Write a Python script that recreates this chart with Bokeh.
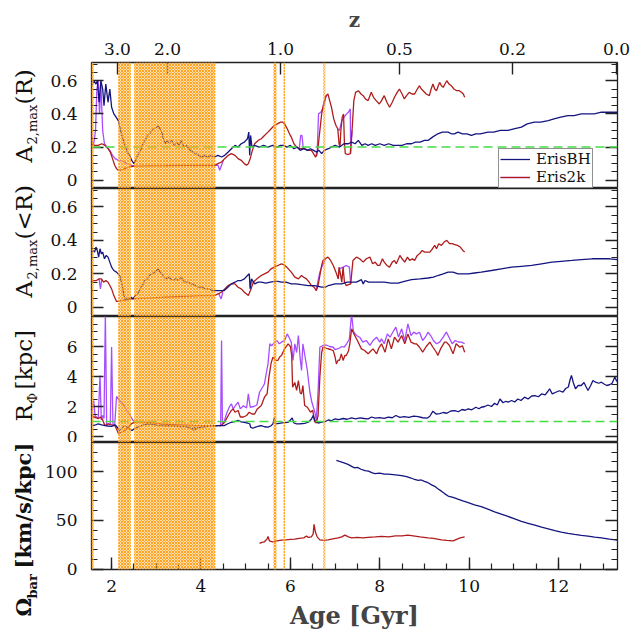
import math
import numpy as np
from bokeh.plotting import figure
from bokeh.models import (Range1d, LinearAxis, FixedTicker, BoxAnnotation, Span,
                          Legend, LegendItem)
from bokeh.layouts import column, row
from bokeh.core.properties import value
from bokeh.embed import file_html
from bokeh.resources import INLINE

NAN = float("nan")

# ---------------- data ----------------
# redshift ticks on the top axis (age in Gyr where each redshift label sits)
z_tick_age = [2.13, 3.25, 5.78, 8.44, 10.97, 13.3]
z_tick_label = ["3.0", "2.0", "1.0", "0.5", "0.2", "0.0"]

# shaded (orange) age intervals [start, end] in Gyr
shade_start = [1.55, 2.15, 2.505, 5.62, 5.85, 6.74]
shade_end = [1.60, 2.43, 4.32, 5.69, 5.88, 6.78]

# reference levels (green dashed)
a2_threshold = 0.2
rphi_threshold = 1.0

# ---- Panel 1: A2,max(R)
bh_a2_age = [1.55, 1.60, 1.65, 1.68, 1.72, 1.76, 1.80, 1.83, 1.87, 1.92, 1.96, 2.00, 2.05, 2.10,
             2.15, 2.20, 2.25, 2.30, 2.35, 2.40, 2.45, 2.50, 2.55, 2.60, 2.65, 2.70, 2.75, 2.80,
             2.85, 2.90, 2.95, 3.00, 3.04, 3.08, 3.12, 3.16, 3.20, 3.25, 3.30, 3.35, 3.40, 3.45,
             3.50, 3.56, 3.62, 3.68, 3.75, 3.82, 3.88, 3.95, 4.02, 4.08, 4.15, 4.22, 4.30, 4.38,
             4.46, 4.53, 4.61, 4.68, 4.76, 4.83, 4.90, 4.97, 5.04, 5.07, 5.09, 5.11, 5.14, 5.20,
             5.30, 5.40, 5.50, 5.60, 5.70, 5.78, 5.85, 5.92, 6.00, 6.08, 6.15, 6.22, 6.30, 6.38,
             6.45, 6.52, 6.58, 6.64, 6.70, 6.76, 6.85, 6.92, 7.00, 7.10, 7.20, 7.30, 7.37, 7.45,
             7.52, 7.60, 7.67, 7.74, 7.82, 7.90, 8.00, 8.10, 8.20, 8.30, 8.40, 8.50, 8.60, 8.71,
             8.80, 8.90, 9.00, 9.08, 9.18, 9.30, 9.40, 9.53, 9.60, 9.67, 9.75, 9.85, 9.95, 10.05,
             10.15, 10.25, 10.42, 10.55, 10.70, 10.87, 11.00, 11.17, 11.30, 11.46, 11.60, 11.77,
             11.90, 12.05, 12.21, 12.35, 12.51, 12.65, 12.80, 12.96, 13.10, 13.32]
bh_a2_val = [0.57, 0.60, 0.58, 0.60, 0.47, 0.60, 0.55, 0.45, 0.58, 0.47, 0.55, 0.44, 0.40, 0.38,
             0.36, 0.30, 0.25, 0.21, 0.17, 0.15, 0.12, 0.10, 0.13, 0.16, 0.18, 0.22, 0.24, 0.27,
             0.28, 0.30, 0.31, 0.32, 0.33, 0.31, 0.29, 0.25, 0.22, 0.24, 0.22, 0.24, 0.21, 0.23,
             0.21, 0.24, 0.20, 0.21, 0.18, 0.17, 0.16, 0.15, 0.14, 0.15, 0.14, 0.15, 0.14, 0.15,
             0.14, 0.15, 0.17, 0.19, 0.21, 0.20, 0.22, 0.23, 0.25, 0.29, 0.15, 0.27, 0.20, 0.21,
             0.20, 0.21, 0.20, 0.21, 0.20, 0.21, 0.21, 0.20, 0.21, 0.19, 0.20, 0.18, 0.19, 0.18,
             0.19, 0.18, 0.17, 0.18, 0.16, 0.18, 0.19, 0.20, 0.21, 0.20, 0.22, 0.22, 0.23, 0.22,
             0.24, 0.21, 0.22, 0.21, 0.22, 0.21, 0.22, 0.21, 0.22, 0.21, 0.21, 0.21, 0.22, 0.22,
             0.23, 0.23, 0.24, 0.24, 0.26, 0.28, 0.29, 0.29, 0.28, 0.28, 0.29, 0.28, 0.28, 0.27,
             0.28, 0.28, 0.29, 0.29, 0.30, 0.30, 0.31, 0.32, 0.34, 0.35, 0.35, 0.36,
             0.37, 0.38, 0.39, 0.39, 0.40, 0.40, 0.40, 0.41, 0.41, 0.41]

k2_a2_age = [1.55, 1.62, 1.70, 1.78, 1.85, 1.92, 1.97, 2.02, 2.07, 2.11, 2.15, 2.20, 2.30, 2.40,
             2.52, 2.80, 3.20, 3.60, 4.00, 4.30, 4.38, 4.46, 4.53, 4.61, 4.68, 4.76, 4.83, 4.90,
             4.97, 5.02, 5.06, 5.10, 5.15, 5.20, 5.28, 5.35, 5.42, 5.50, 5.57, 5.64, 5.71, 5.78,
             5.83, 5.87, 5.93, 5.98, 6.02, 6.08, 6.14, 6.20, 6.25, 6.32, 6.40, 6.47, 6.52, 6.56,
             6.59, 6.62, 6.66, 6.70, 6.75, 6.80, 6.84, 6.88, 6.92, 6.97, 7.02, 7.06, 7.09, 7.11,
             7.13, 7.16, 7.19, 7.21, 7.23, 7.28, 7.34, 7.38, 7.42, 7.46, 7.52, 7.58, 7.63, 7.68,
             7.74, 7.78, 7.81, 7.86, 7.92, 7.99, 8.04, 8.10, 8.16, 8.22, 8.28, 8.33, 8.39, 8.44,
             8.50, 8.55, 8.60, 8.66, 8.72, 8.78, 8.84, 8.89, 8.93, 8.97, 9.04, 9.11, 9.15, 9.19,
             9.23, 9.27, 9.31, 9.34, 9.38, 9.42, 9.46, 9.50, 9.55, 9.60, 9.66, 9.72, 9.78, 9.83,
             9.87, 9.90]
k2_a2_val = [0.22, 0.21, 0.21, 0.22, 0.21, 0.19, 0.17, 0.13, 0.09, 0.07, 0.06, 0.06, 0.07, 0.08,
             0.085, 0.087, 0.088, 0.09, 0.09, 0.09, 0.10, 0.11, 0.13, 0.15, 0.16, 0.15, 0.13, 0.12,
             0.10, 0.09, 0.10, 0.13, 0.18, 0.22, 0.24, 0.25, 0.27, 0.29, 0.31, 0.33, 0.34, 0.35,
             0.35, 0.34, 0.31, 0.28, 0.26, 0.22, 0.20, 0.19, 0.19, 0.19, 0.18, 0.18, 0.16, 0.14,
             0.15, 0.20, 0.30, 0.40, 0.47, 0.51, 0.52, 0.48, 0.44, 0.37, 0.33, 0.31, 0.22, 0.20,
             0.30, 0.38, 0.40, 0.22, 0.16, 0.155, 0.16, 0.30, 0.48, 0.53, 0.54, 0.52, 0.51, 0.49,
             0.48, 0.51, 0.53, 0.50, 0.48, 0.46, 0.48, 0.51, 0.47, 0.44, 0.47, 0.50, 0.53, 0.55,
             0.52, 0.49, 0.51, 0.53, 0.52, 0.52, 0.55, 0.57, 0.55, 0.54, 0.52, 0.51, 0.55, 0.58,
             0.55, 0.54, 0.57, 0.59, 0.57, 0.56, 0.58, 0.60, 0.58, 0.57, 0.55, 0.54, 0.54, 0.53,
             0.52, 0.50]

# second Eris2k estimate (purple) -- only where it departs from the red curve
pu_a2_age = [1.55, 1.60, 1.64, 1.67, 1.70, 1.73, 1.76, 1.80, 1.84, 1.90, 1.96, 2.02, 2.08, 2.15,
             2.25, 2.35, 2.45, 2.52, NAN,
             4.30, 4.38, 4.42, 4.46, 4.50, NAN,
             6.20, 6.23, 6.26, 6.29, NAN,
             6.56, 6.60, 6.63, 6.68, 6.72, 6.76, 6.80, NAN,
             7.05, 7.10, 7.15, 7.20, 7.26, 7.30, 7.34, 7.35, 7.38]
pu_a2_val = [0.24, 0.22, 0.30, 0.55, 0.60, 0.40, 0.58, 0.30, 0.22, 0.20, 0.18, 0.15, 0.13, 0.12,
             0.115, 0.10, 0.09, 0.085, NAN,
             0.09, 0.09, 0.06, 0.09, 0.12, NAN,
             0.19, 0.27, 0.27, 0.19, NAN,
             0.14, 0.17, 0.40, 0.41, 0.43, 0.46, 0.51, NAN,
             0.31, 0.30, 0.36, 0.38, 0.40, 0.41, 0.43, 0.16, 0.30]

# ---- Panel 2: A2,max(<R)
bh_a2c_age = [1.55, 1.58, 1.62, 1.65, 1.68, 1.71, 1.74, 1.77, 1.80, 1.84, 1.88, 1.92, 1.96, 2.00,
              2.05, 2.11, 2.18, 2.23, 2.27, 2.31, 2.36, 2.40, 2.44, 2.48, 2.53, 2.59, 2.64, 2.69,
              2.74, 2.80, 2.85, 2.90, 2.96, 3.00, 3.04, 3.08, 3.12, 3.17, 3.22, 3.27, 3.33, 3.38,
              3.43, 3.50, 3.56, 3.62, 3.70, 3.79, 3.87, 3.94, 4.02, 4.10, 4.18, 4.26, 4.38, 4.45,
              4.52, 4.60, 4.68, 4.76, 4.83, 4.90, 4.97, 5.04, 5.08, 5.10, 5.13, 5.20, 5.28, 5.35,
              5.45, 5.55, 5.65, 5.72, 5.80, 5.90, 6.02, 6.12, 6.25, 6.40, 6.54, 6.62, 6.70, 6.78,
              6.85, 7.00, 7.15, 7.27, 7.37, 7.48, 7.59, 7.63, 7.67, 7.75, 7.85, 7.96, 8.10, 8.25,
              8.41, 8.55, 8.71, 8.90, 9.08, 9.20, 9.30, 9.42, 9.53, 9.64, 9.75, 9.88, 9.98, 10.12,
              10.27, 10.50, 10.72, 10.95, 11.17, 11.40, 11.62, 11.85, 12.06, 12.30, 12.51, 12.75,
              12.96, 13.15, 13.32]
bh_a2c_val = [0.31, 0.34, 0.33, 0.36, 0.34, 0.30, 0.35, 0.32, 0.33, 0.29, 0.31, 0.30, 0.27, 0.24,
              0.22, 0.21, 0.19, 0.14, 0.08, 0.04, 0.06, 0.05, 0.06, 0.05, 0.07, 0.08, 0.11, 0.13,
              0.16, 0.17, 0.19, 0.20, 0.21, 0.22, 0.23, 0.21, 0.20, 0.18, 0.17, 0.18, 0.17, 0.16,
              0.17, 0.16, 0.18, 0.15, 0.15, 0.14, 0.13, 0.12, 0.12, 0.11, 0.11, 0.10, 0.10, 0.10,
              0.10, 0.12, 0.14, 0.15, 0.16, 0.16, 0.17, 0.19, 0.20, 0.11, 0.17, 0.14, 0.15, 0.15,
              0.145, 0.15, 0.155, 0.155, 0.15, 0.15, 0.14, 0.14, 0.135, 0.13, 0.13, 0.125, 0.12, 0.12,
              0.13, 0.14, 0.14, 0.15, 0.15, 0.15, 0.165, 0.14, 0.16, 0.15, 0.15, 0.15, 0.15, 0.145,
              0.145, 0.155, 0.165, 0.17, 0.175, 0.18, 0.19, 0.20, 0.21, 0.21, 0.20, 0.20, 0.20, 0.205,
              0.21, 0.22, 0.23, 0.24, 0.245, 0.25, 0.26, 0.27, 0.275, 0.28, 0.285, 0.29,
              0.29, 0.29, 0.285]

k2_a2c_age = [1.55, 1.60, 1.66, 1.72, 1.77, 1.82, 1.87, 1.92, 1.96, 2.00, 2.05, 2.11, 2.16, 2.22,
              2.30, 2.44, 2.80, 3.20, 3.60, 4.00, 4.30, 4.38, 4.46, 4.53, 4.61, 4.68, 4.76, 4.83,
              4.90, 4.97, 5.06, 5.12, 5.17, 5.25, 5.35, 5.42, 5.50, 5.57, 5.64, 5.72, 5.80, 5.85,
              5.92, 6.02, 6.10, 6.18, 6.25, 6.30, 6.36, 6.42, 6.47, 6.53, 6.58, 6.62, 6.66, 6.70,
              6.73, 6.78, 6.84, 6.90, 6.96, 7.02, 7.07, 7.09, 7.12, 7.15, 7.18, 7.21, 7.25, 7.30,
              7.35, 7.40, 7.44, 7.48, 7.55, 7.63, 7.70, 7.78, 7.84, 7.90, 7.95, 8.00, 8.06, 8.10,
              8.16, 8.22, 8.28, 8.33, 8.37, 8.42, 8.45, 8.50, 8.56, 8.62, 8.67, 8.73, 8.78, 8.84,
              8.89, 8.95, 9.00, 9.06, 9.12, 9.18, 9.23, 9.27, 9.32, 9.38, 9.44, 9.50, 9.56, 9.62,
              9.68, 9.74, 9.80, 9.86, 9.90]
k2_a2c_val = [0.15, 0.16, 0.16, 0.17, 0.17, 0.15, 0.16, 0.15, 0.13, 0.11, 0.07, 0.035, 0.035, 0.04,
              0.045, 0.05, 0.055, 0.06, 0.065, 0.07, 0.07, 0.08, 0.09, 0.11, 0.13, 0.14, 0.14, 0.12,
              0.11, 0.09, 0.07, 0.11, 0.15, 0.17, 0.19, 0.20, 0.21, 0.23, 0.24, 0.25, 0.26, 0.255,
              0.24, 0.21, 0.18, 0.17, 0.19, 0.18, 0.17, 0.15, 0.13, 0.12, 0.10, 0.13, 0.19, 0.25,
              0.28, 0.29, 0.30, 0.28, 0.25, 0.21, 0.17, 0.24, 0.20, 0.15, 0.24, 0.15, 0.13, 0.135,
              0.14, 0.28, 0.29, 0.30, 0.29, 0.27, 0.29, 0.30, 0.26, 0.27, 0.25, 0.25, 0.29, 0.27,
              0.25, 0.24, 0.27, 0.28, 0.26, 0.29, 0.31, 0.29, 0.27, 0.30, 0.28, 0.29, 0.28, 0.31,
              0.32, 0.34, 0.33, 0.33, 0.33, 0.35, 0.37, 0.35, 0.38, 0.37, 0.39, 0.40, 0.38, 0.38,
              0.375, 0.37, 0.36, 0.34, 0.33]

pu_a2c_age = [1.72, 1.75, 1.78, NAN,
              4.40, 4.45, 4.49, NAN,
              6.58, 6.62, 6.66, 6.70, 6.74, 6.78, NAN,
              7.07, 7.10, 7.18, 7.25, 7.32, 7.35]
pu_a2c_val = [0.17, 0.11, 0.17, NAN,
              0.08, 0.05, 0.09, NAN,
              0.10, 0.16, 0.21, 0.24, 0.26, 0.29, NAN,
              0.17, 0.23, 0.24, 0.25, 0.24, 0.14]

# ---- Panel 3: R_phi [kpc]
bh_r_age = [1.55, 1.62, 1.70, 1.78, 1.85, 1.92, 2.00, 2.08, 2.13, 2.18, 2.24, 2.29, 2.35, 2.40,
            2.46, 2.52, 2.59, 2.67, 2.74, 2.82, 2.90, 2.98, 3.05, 3.12, 3.20, 3.28, 3.36, 3.44,
            3.52, 3.60, 3.68, 3.75, 3.79, 3.81, 3.84, 3.86, 3.88, 3.92, 4.00, 4.08, 4.16, 4.23,
            4.30, 4.38, 4.45, 4.52, 4.60, 4.68, 4.76, 4.83, 4.90, 4.97, 5.04, 5.09, 5.11, 5.16,
            5.22, 5.30, 5.35, 5.42, 5.50, 5.56, 5.61, 5.64, 5.67, 5.75, 5.85, 5.95, 6.00, 6.04,
            6.08, 6.14, 6.22, 6.32, 6.40, 6.47, 6.51, 6.55, 6.62, 6.70, 6.78, 6.85, 6.92, 7.00,
            7.08, 7.18, 7.27, 7.37, 7.46, 7.56, 7.65, 7.74, 7.82, 7.90, 8.00, 8.10, 8.19, 8.28,
            8.36, 8.45, 8.55, 8.65, 8.76, 8.86, 8.96, 9.06, 9.12, 9.19, 9.26, 9.34, 9.42, 9.50,
            9.59, 9.68, 9.76, 9.84, 9.91, 9.98, 10.06, 10.15, 10.22, 10.27, 10.35, 10.42, 10.50,
            10.57, 10.63, 10.69, 10.76, 10.82, 10.87, 10.95, 11.02, 11.09, 11.16, 11.24, 11.32,
            11.40, 11.47, 11.55, 11.62, 11.70, 11.76, 11.80, 11.86, 11.94, 12.02, 12.10, 12.16,
            12.22, 12.26, 12.29, 12.33, 12.38, 12.44, 12.51, 12.57, 12.62, 12.66, 12.72, 12.77,
            12.83, 12.90, 12.96, 13.02, 13.08, 13.14, 13.20, 13.26, 13.30, 13.32]
bh_r_val = [0.73, 0.75, 0.84, 0.78, 0.73, 0.70, 0.67, 0.78, 0.60, 0.40, 0.55, 0.73, 0.60, 0.50,
            0.40, 0.55, 0.62, 0.73, 0.80, 0.84, 0.82, 0.78, 0.72, 0.75, 0.70, 0.72, 0.69, 0.70,
            0.66, 0.68, 0.65, 0.60, 0.45, 0.60, 0.42, 0.62, 0.45, 0.58, 0.62, 0.65, 0.68, 0.73,
            0.70, 0.73, 0.73, 0.73, 0.85, 0.95, 1.00, 1.07, 0.98, 0.95, 0.90, 0.85, 0.62, 0.55,
            0.62, 0.70, 0.73, 0.65, 0.62, 0.70, 0.84, 1.24, 0.84, 0.88, 0.93, 0.95, 1.10, 1.24,
            0.90, 0.84, 0.85, 0.88, 0.95, 1.15, 1.40, 1.05, 0.90, 0.96, 1.00, 1.10, 1.05, 1.18,
            1.12, 1.20, 1.15, 1.24, 1.18, 1.24, 1.20, 1.18, 1.30, 1.22, 1.26, 1.21, 1.29, 1.25,
            1.40, 1.28, 1.33, 1.28, 1.36, 1.33, 1.25, 1.22, 1.35, 1.69, 1.50, 1.52, 1.60, 1.55,
            1.70, 1.73, 1.65, 1.80, 1.75, 1.84, 1.78, 1.95, 1.85, 1.95, 2.00, 2.10, 2.00,
            2.22, 2.10, 2.50, 2.25, 2.35, 2.29, 2.40, 2.30, 2.50, 2.40, 2.62, 2.50,
            2.70, 2.73, 2.65, 2.84, 2.78, 3.00, 3.18, 2.84, 2.95, 3.05, 2.96, 3.20,
            3.30, 3.80, 4.07, 3.60, 3.18, 3.40, 3.40, 3.60, 3.30, 3.07, 3.40, 3.73,
            3.62, 3.55, 3.62, 3.50, 3.40, 3.45, 3.55, 3.96, 3.70, 3.69]

k2_r_age = [1.55, 1.60, 1.66, 1.70, 1.75, 1.80, 1.85, 1.92, 2.00, 2.07, 2.11, 2.15, 2.20, 2.29,
            2.37, 2.44, 2.52, 2.70, 2.90, 3.10, 3.30, 3.50, 3.70, 3.90, 4.10, 4.30, 4.45, 4.53,
            4.61, 4.67, 4.72, 4.76, 4.83, 4.88, 4.95, 5.02, 5.08, 5.14, 5.20, 5.26, 5.35, 5.42,
            5.48, 5.52, 5.57, 5.61, 5.67, 5.72, 5.76, 5.80, 5.87, 5.95, 6.00, 6.03, 6.05, 6.10,
            6.14, 6.18, 6.22, 6.25, 6.28, 6.32, 6.38, 6.45, 6.50, 6.54, 6.58, 6.62, 6.66, 6.70,
            6.73, 6.79, 6.84, 6.90, 6.96, 7.00, 7.03, 7.07, 7.10, 7.14, 7.18, 7.22, 7.25, 7.30,
            7.33, 7.37, 7.44, 7.50, 7.59, 7.66, 7.74, 7.80, 7.85, 7.93, 7.98, 8.04, 8.12, 8.19,
            8.26, 8.33, 8.41, 8.49, 8.56, 8.63, 8.70, 8.78, 8.82, 8.89, 8.96, 9.04, 9.12, 9.19,
            9.27, 9.30, 9.36, 9.45, 9.49, 9.56, 9.64, 9.71, 9.79, 9.85, 9.90]
k2_r_val = [1.40, 1.30, 1.25, 1.18, 1.30, 1.10, 0.73, 0.85, 0.78, 0.73, 0.50, 0.22, 0.25, 0.40,
            0.60, 0.84, 0.96, 0.96, 0.93, 0.84, 0.80, 0.78, 0.76, 0.73, 0.73, 0.73, 0.73, 0.95,
            1.40, 1.70, 1.84, 1.62, 1.73, 1.30, 1.30, 1.40, 1.62, 1.50, 1.50, 1.84, 2.07, 2.62,
            2.85, 3.96, 4.90, 5.29, 5.07, 5.07, 5.30, 5.40, 5.84, 6.18, 6.00, 5.40, 3.29, 3.60,
            3.07, 3.73, 2.90, 2.84, 3.40, 2.07, 1.95, 1.62, 1.75, 1.00, 0.90, 1.40, 4.00, 5.60,
            5.96, 5.90, 5.85, 5.80, 5.73, 5.30, 4.84, 5.10, 5.07, 5.51, 5.07, 5.40, 5.40, 5.70,
            6.18, 7.18, 6.73, 6.40, 5.84, 5.73, 5.51, 5.70, 5.84, 5.51, 5.90, 6.18, 5.62, 6.51,
            5.84, 6.62, 6.29, 6.73, 6.18, 6.84, 6.29, 6.18, 6.18, 5.95, 5.62, 6.00, 6.29, 5.95,
            5.60, 5.40, 5.84, 6.29, 6.29, 6.07, 5.51, 6.18, 5.95, 6.05, 5.62]

pu_r_age = [1.55, 1.60, 1.63, 1.66, 1.70, 1.74, 1.77, 1.80, 1.83, 1.86, 1.89, 1.93, 1.97, 2.00,
            2.03, 2.07, 2.11, 2.18, 2.27, 2.37, 2.48, 2.55, NAN,
            4.40, 4.44, 4.46, 4.48, 4.52, 4.58, 4.64, 4.68, 4.72, 4.78, 4.83, 4.88, 4.95, 5.02,
            5.06, 5.10, 5.18, 5.25, 5.31, 5.38, 5.42, 5.46, 5.50, 5.54, 5.58, 5.65, 5.70, 5.75,
            5.80, 5.87, 5.93, 5.97, 6.02, 6.06, 6.10, 6.14, 6.18, 6.22, 6.25, 6.28, 6.33, 6.38,
            6.41, 6.44, 6.48, 6.51, 6.55, 6.58, 6.62, 6.66, 6.73, 6.80, 6.88, 6.96, 7.00, 7.05,
            7.10, 7.15, 7.20, 7.26, 7.32, 7.37, 7.41, 7.48, 7.55, 7.62, 7.70, 7.78, 7.85, 7.93,
            8.00, 8.04, 8.10, 8.17, 8.23, 8.30, 8.36, 8.42, 8.49, 8.56, 8.63, 8.70, 8.76, 8.82,
            8.89, 8.96, 9.02, 9.08, 9.14, 9.20, 9.27, 9.34, 9.42, 9.49, 9.55, 9.62, 9.69, 9.76,
            9.83, 9.90]
pu_r_val = [1.50, 2.40, 1.40, 1.30, 1.20, 4.07, 1.10, 1.40, 1.20, 8.20, 0.73, 0.84, 0.80, 5.96,
            0.73, 0.80, 2.67, 2.40, 2.10, 1.60, 1.07, 0.96, NAN,
            0.73, 0.73, 6.40, 0.80, 1.00, 1.60, 2.00, 2.18, 1.84, 2.10, 2.29, 1.84, 2.05, 1.90,
            2.84, 1.95, 2.00, 2.10, 2.95, 3.30, 3.51, 4.20, 4.84, 6.18, 6.05, 6.29, 6.40, 6.18,
            6.29, 6.40, 6.84, 6.62, 6.29, 5.07, 6.18, 5.60, 6.73, 5.20, 4.40, 6.18, 5.30, 4.40,
            3.60, 2.90, 2.30, 2.00, 1.60, 1.07, 3.00, 5.95, 6.07, 6.10, 6.00, 5.95, 5.80, 5.84,
            5.90, 6.00, 5.95, 6.18, 6.50, 8.20, 7.00, 6.73, 6.62, 6.29, 6.40, 6.07, 6.40, 6.62,
            6.29, 6.51, 6.18, 6.84, 6.62, 7.00, 7.29, 6.62, 7.18, 6.40, 7.51, 6.73, 6.96, 6.84,
            6.95, 6.40, 6.62, 6.95, 6.73, 6.40, 6.18, 6.29, 6.62, 6.96, 6.62, 6.18, 6.40, 6.30,
            6.29, 6.18]

# ---- Panel 4: Omega_bar [km/s/kpc]
k2_om_age = [5.31, 5.36, 5.42, 5.48, 5.50, 5.53, 5.60, 5.70, 5.80, 5.90, 6.00, 6.10, 6.20, 6.30,
             6.36, 6.40, 6.47, 6.51, 6.53, 6.56, 6.60, 6.66, 6.75, 6.84, 6.95, 7.07, 7.15, 7.22,
             7.30, 7.37, 7.50, 7.62, 7.74, 7.90, 8.04, 8.20, 8.35, 8.50, 8.63, 8.75, 8.90, 9.08,
             9.20, 9.38, 9.50, 9.64, 9.72, 9.80, 9.90]
k2_om_val = [26.3, 27.3, 28.0, 31.0, 33.4, 29.0, 28.0, 29.0, 29.7, 30.0, 30.5, 30.7, 31.5, 32.0,
             34.0, 32.4, 33.0, 36.0, 46.0, 38.0, 33.0, 30.0, 29.5, 30.0, 31.0, 32.0, 33.0, 34.8,
             33.0, 32.0, 32.5, 32.0, 32.5, 33.0, 33.5, 33.0, 34.0, 34.0, 34.8, 34.0, 33.0, 32.0,
             31.5, 30.0, 29.5, 29.0, 30.5, 32.0, 33.1]

bh_om_age = [7.03, 7.10, 7.20, 7.29, 7.37, 7.44, 7.50, 7.58, 7.67, 7.75, 7.82, 7.89, 8.00, 8.10,
             8.19, 8.30, 8.40, 8.49, 8.60, 8.70, 8.78, 8.86, 8.93, 9.00, 9.08, 9.16, 9.23, 9.30,
             9.38, 9.45, 9.53, 9.64, 9.75, 9.86, 9.98, 10.12, 10.27, 10.42, 10.57, 10.72, 10.87,
             11.02, 11.17, 11.32, 11.47, 11.62, 11.77, 11.92, 12.06, 12.21, 12.36, 12.51, 12.66,
             12.81, 12.96, 13.14, 13.32]
bh_om_val = [111.6, 110.5, 109.0, 107.5, 105.5, 104.0, 104.5, 102.5, 101.0, 100.5, 99.0, 98.0,
             98.5, 97.5, 97.5, 97.0, 96.5, 96.0, 95.0, 93.5, 92.0, 91.0, 91.5, 90.0, 88.7, 86.5,
             85.0, 82.5, 80.0, 77.5, 75.0, 73.5, 71.7, 70.0, 68.3, 66.0, 64.0, 61.5, 58.7, 56.3,
             54.0, 51.5, 49.0, 47.0, 45.0, 43.0, 41.3, 39.5, 38.0, 36.7, 35.5, 34.6, 33.8,
             32.8, 32.0, 30.8, 29.7]

# ---------------- style ----------------
FONT = "DejaVu Serif"
C_BH = "#15157f"
C_2K = "#b01c1c"
C_PU = "#a64dff"
C_GREEN = "#44dd44"
C_AX = "#222222"
X_RANGE = (1.55, 13.32)
LW = 1.3
LABEL_W = 42          # width of the strip that carries the y-axis titles
TOTAL_H = 634


def make_fig(frame_h, yr, yticks, yminor, top=0, bottom=0, overrides=None):
    p = figure(frame_width=526, frame_height=frame_h,
               x_range=Range1d(*X_RANGE), y_range=Range1d(*yr),
               output_backend="svg", toolbar_location=None,
               x_axis_location=None, y_axis_location="left",
               min_border_left=48, min_border_right=18,
               min_border_top=top, min_border_bottom=bottom)
    p.grid.visible = False
    p.outline_line_color = C_AX
    p.outline_line_width = 1.3
    p.background_fill_color = "white"
    p.border_fill_color = "white"
    ticker = FixedTicker(ticks=yticks, minor_ticks=yminor)
    ax = p.yaxis[0]
    ax.ticker = ticker
    ax.axis_line_color = None
    ax.major_tick_in = 12
    ax.major_tick_out = 0
    ax.minor_tick_in = 6
    ax.minor_tick_out = 0
    ax.major_tick_line_color = C_AX
    ax.minor_tick_line_color = C_AX
    ax.major_tick_line_width = 1.4
    ax.minor_tick_line_width = 1.2
    ax.major_label_text_font = FONT
    ax.major_label_text_font_size = "17px"
    ax.major_label_text_color = "#111111"
    ax.major_label_standoff = 14
    if overrides:
        ax.major_label_overrides = overrides
    rax = LinearAxis(ticker=ticker, axis_line_color=None,
                     major_tick_in=12, major_tick_out=0, minor_tick_in=6, minor_tick_out=0,
                     major_tick_line_color=C_AX, minor_tick_line_color=C_AX,
                     major_tick_line_width=1.4, minor_tick_line_width=1.2,
                     major_label_overrides={t: "" for t in yticks},
                     major_label_text_font_size="1px", major_label_standoff=0)
    p.add_layout(rax, "right")
    return p


def shade(p):
    for a, b in zip(shade_start, shade_end):
        p.add_layout(BoxAnnotation(left=a, right=b, fill_color="#ffb347", fill_alpha=0.45,
                                   hatch_pattern="x", hatch_color="#ff9f14", hatch_alpha=0.9,
                                   hatch_scale=3.0, hatch_weight=1.0, line_color=None))


def a_minor(lo, hi, step):
    return [float(v) for v in np.round(np.arange(lo, hi + 1e-9, step), 4)]


# ---- panel 1
p1 = make_fig(126, (-0.05, 0.71), [0, 0.2, 0.4, 0.6], a_minor(-0.05, 0.7, 0.05),
              top=62, overrides={0: "0"})
r_pu1 = p1.line(np.array(pu_a2_age), np.array(pu_a2_val), line_color=C_PU, line_width=LW)
r_2k1 = p1.line(k2_a2_age, k2_a2_val, line_color=C_2K, line_width=LW)
r_bh1 = p1.line(bh_a2_age, bh_a2_val, line_color=C_BH, line_width=LW)
p1.add_layout(Span(location=a2_threshold, dimension="width", line_color=C_GREEN,
                   line_dash="9 5", line_width=1.5))
shade(p1)
top_ax = LinearAxis(ticker=FixedTicker(ticks=z_tick_age, minor_ticks=[]),
                    major_label_overrides={t: s for t, s in zip(z_tick_age, z_tick_label)},
                    axis_label="z", axis_label_text_font=FONT, axis_label_text_font_style="bold",
                    axis_label_text_font_size="20px", axis_label_standoff=8,
                    major_label_text_font=FONT, major_label_text_font_size="17px",
                    major_label_text_color="#111111", major_label_standoff=8,
                    axis_line_color=None, major_tick_in=12, major_tick_out=0,
                    major_tick_line_color=C_AX, major_tick_line_width=1.4)
p1.add_layout(top_ax, "above")
legend = Legend(items=[LegendItem(label="ErisBH", renderers=[r_bh1]),
                       LegendItem(label="Eris2k", renderers=[r_pu1, r_2k1])],
                location=(407, 0), orientation="vertical",
                label_text_font=FONT, label_text_font_size="15px", label_text_color="#111111",
                glyph_width=30, glyph_height=10, label_height=10, label_standoff=6,
                spacing=0, padding=1, margin=0,
                border_line_color=C_AX, border_line_width=1.5,
                background_fill_color="white", background_fill_alpha=1.0)
p1.add_layout(legend)

# ---- panel 2
p2 = make_fig(128, (-0.055, 0.71), [0, 0.2, 0.4, 0.6], a_minor(-0.05, 0.7, 0.05),
              overrides={0: "0"})
p2.line(np.array(pu_a2c_age), np.array(pu_a2c_val), line_color=C_PU, line_width=LW)
p2.line(k2_a2c_age, k2_a2c_val, line_color=C_2K, line_width=LW)
p2.line(bh_a2c_age, bh_a2c_val, line_color=C_BH, line_width=LW)
shade(p2)

# ---- panel 3
p3 = make_fig(126, (-0.4, 8.0), [0, 2, 4, 6], a_minor(0.0, 8.0, 0.5))
p3.line(np.array(pu_r_age), np.array(pu_r_val), line_color=C_PU, line_width=LW)
p3.line(k2_r_age, k2_r_val, line_color=C_2K, line_width=LW)
p3.line(bh_r_age, bh_r_val, line_color=C_BH, line_width=LW)
p3.add_layout(Span(location=rphi_threshold, dimension="width", line_color=C_GREEN,
                   line_dash="9 5", line_width=1.5))
shade(p3)

# ---- panel 4
p4 = make_fig(127, (-0.5, 130), [0, 50, 100], a_minor(0, 130, 10), bottom=65)
p4.line(k2_om_age, k2_om_val, line_color=C_2K, line_width=LW)
p4.line(bh_om_age, bh_om_val, line_color=C_BH, line_width=LW)
shade(p4)
bot_ax = LinearAxis(ticker=FixedTicker(ticks=[2, 4, 6, 8, 10, 12], minor_ticks=a_minor(1.5, 13.0, 0.5)),
                    axis_label="Age [Gyr]", axis_label_text_font=FONT,
                    axis_label_text_font_style="bold", axis_label_text_font_size="24px",
                    axis_label_standoff=6,
                    major_label_text_font=FONT, major_label_text_font_size="17px",
                    major_label_text_color="#111111", major_label_standoff=10,
                    axis_line_color=None, major_tick_in=12, major_tick_out=0,
                    minor_tick_in=6, minor_tick_out=0,
                    major_tick_line_color=C_AX, minor_tick_line_color=C_AX,
                    major_tick_line_width=1.4, minor_tick_line_width=1.2)
p4.add_layout(bot_ax, "below")

# ---- strip with the y-axis titles (main text + subscripts), rotated
lab = figure(width=LABEL_W, height=TOTAL_H, x_range=Range1d(0, LABEL_W),
             y_range=Range1d(0, TOTAL_H), output_backend="svg", toolbar_location=None,
             x_axis_location=None, y_axis_location=None, min_border=0)
lab.grid.visible = False
lab.outline_line_color = None
lab.background_fill_color = "white"
lab.border_fill_color = "white"


def ytitle(parts, x_main, y_start, sub_dx, bold=False):
    # parts: (text, font px, is_subscript, approx advance in px)
    y = y_start
    for text, size, is_sub, adv in parts:
        lab.text(x=[x_main + (sub_dx if is_sub else 0)], y=[y], text=[text],
                 angle=math.pi / 2, text_align="left", text_baseline="middle",
                 text_font=value(FONT), text_font_size=value(f"{size}px"),
                 text_font_style=value("bold" if bold else "normal"), text_color="#111111")
        y += adv


ytitle([("A", 23, False, 18), ("2,max", 13, True, 40), ("(R)", 23, False, 0)],
       23, TOTAL_H - 162, 9)
ytitle([("A", 23, False, 18), ("2,max", 13, True, 40), ("(<R)", 23, False, 0)],
       23, TOTAL_H - 297, 9)
ytitle([("R", 23, False, 18), ("Φ", 13, True, 14), ("[kpc]", 23, False, 0)],
       23, TOTAL_H - 421, 9)
ytitle([("Ω", 21, False, 18), ("bar", 13, True, 30), ("[km/s/kpc]", 21, False, 0)],
       23, TOTAL_H - 616, 9, bold=True)

layout = row(lab, column(p1, p2, p3, p4, spacing=0), spacing=0)
open("out.html", "w").write(file_html(layout, INLINE))
